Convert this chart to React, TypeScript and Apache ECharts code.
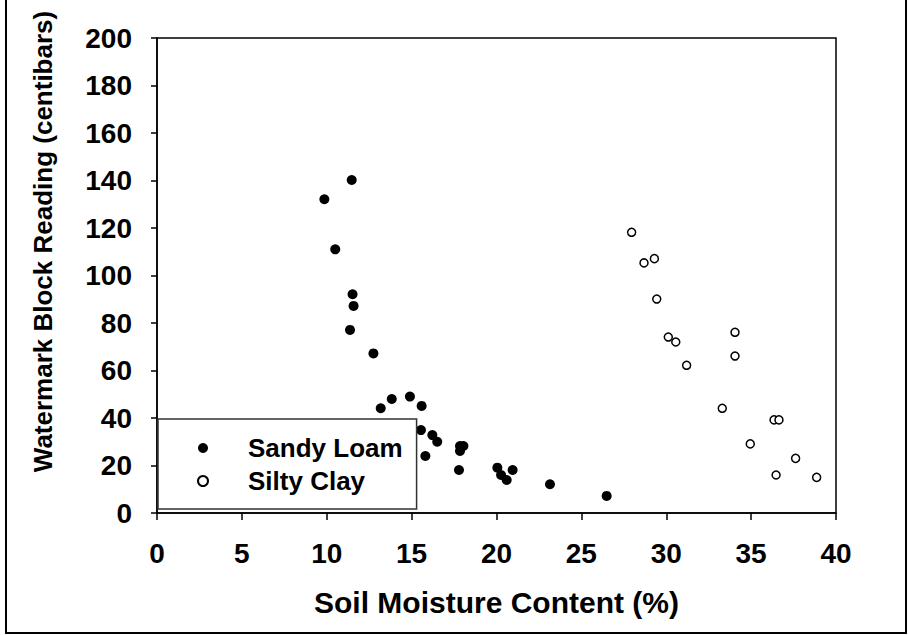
import React, { useEffect, useRef } from "react";
import * as echarts from "echarts";

const seriesNames = ["Sandy Loam", "Silty Clay"];

const sandyLoam: [number, number][] = [
  [9.86, 132.1], [10.5, 111.0], [11.47, 140.2], [11.52, 92.1], [11.58, 87.2],
  [11.37, 77.1], [12.75, 67.2], [13.18, 44.1], [13.83, 48.0], [14.9, 49.0],
  [15.59, 45.1], [15.55, 34.9], [15.81, 24.0], [16.22, 32.8], [16.51, 30.0],
  [17.85, 28.2], [18.05, 28.2], [17.85, 26.1], [17.79, 18.1], [20.05, 19.1],
  [20.27, 16.0], [20.6, 13.9], [20.95, 18.1], [23.15, 12.1], [26.49, 7.2],
];

const siltyClay: [number, number][] = [
  [27.96, 118.2], [28.69, 105.3], [29.3, 107.1], [29.44, 90.1], [30.12, 74.1],
  [30.56, 72.0], [31.2, 62.2], [34.05, 76.1], [34.05, 66.1], [33.3, 44.1],
  [36.35, 39.2], [36.64, 39.2], [34.95, 29.1], [37.62, 23.0], [36.47, 16.0],
  [38.86, 15.0],
];

const xAxisTitle = "Soil Moisture Content (%)";
const yAxisTitle = "Watermark Block Reading (centibars)";

const FONT = "'Liberation Sans', Arial, Helvetica, sans-serif";

export default function App() {
  const ref = useRef<HTMLDivElement>(null);
  useEffect(() => {
    document.body.style.margin = "0";
    if (!ref.current) return;
    const chart = echarts.init(ref.current, undefined, { renderer: "svg" });
    chart.setOption({
      animation: false,
      backgroundColor: "#ffffff",
      grid: {
        left: 157,
        top: 38,
        right: 72,
        bottom: 122,
        show: true,
        borderColor: "#000",
        borderWidth: 1.5,
        backgroundColor: "transparent",
      },
      xAxis: {
        type: "value",
        min: 0,
        max: 40,
        interval: 5,
        name: xAxisTitle,
        nameLocation: "middle",
        nameGap: 74,
        nameTextStyle: { fontSize: 30, fontWeight: "bold", color: "#000", fontFamily: FONT },
        axisLine: { show: true, onZero: false, lineStyle: { color: "#000", width: 1.5 } },
        axisTick: { show: true, inside: false, length: 7, lineStyle: { color: "#000", width: 1.5 } },
        axisLabel: { margin: 26, fontSize: 28, fontWeight: "bold", color: "#000", fontFamily: FONT },
        splitLine: { show: false },
      },
      yAxis: {
        type: "value",
        min: 0,
        max: 200,
        interval: 20,
        name: yAxisTitle,
        nameLocation: "middle",
        nameGap: 101,
        nameTextStyle: {
          fontSize: 26,
          fontWeight: "bold",
          color: "#000",
          fontFamily: FONT,
          padding: [0, 0, 0, 68],
        },
        axisLine: { show: true, onZero: false, lineStyle: { color: "#000", width: 1.5 } },
        axisTick: { show: true, inside: false, length: 6, lineStyle: { color: "#000", width: 1.5 } },
        axisLabel: { margin: 25, fontSize: 28, fontWeight: "bold", color: "#000", fontFamily: FONT },
        splitLine: { show: false },
      },
      legend: {
        orient: "vertical",
        left: 158,
        top: 419,
        padding: [16, 14, 15, 39],
        itemGap: 7,
        itemWidth: 10,
        itemHeight: 10,
        backgroundColor: "#ffffff",
        borderColor: "#333",
        borderWidth: 1.5,
        textStyle: {
          fontSize: 26,
          fontWeight: "bold",
          color: "#000",
          fontFamily: FONT,
          padding: [0, 0, 0, 35],
        },
        data: [
          { name: seriesNames[0], icon: "circle" },
          { name: seriesNames[1], icon: "circle" },
        ],
      },
      graphic: [
        {
          type: "rect",
          silent: true,
          shape: { x: 6, y: -10, width: 900, height: 643 },
          style: { fill: "none", stroke: "#000", lineWidth: 2 },
        },
      ],
      series: [
        {
          name: seriesNames[0],
          type: "scatter",
          data: sandyLoam,
          symbol: "circle",
          symbolSize: 10,
          itemStyle: { color: "#000", borderWidth: 0, opacity: 1 },
        },
        {
          name: seriesNames[1],
          type: "scatter",
          data: siltyClay,
          symbol: "circle",
          symbolSize: 8,
          itemStyle: { color: "#fff", borderColor: "#000", borderWidth: 1.5, opacity: 1 },
        },
      ],
    });
    return () => chart.dispose();
  }, []);
  return (
    <div
      ref={ref}
      style={{ position: "absolute", left: 0, top: 0, width: 908, height: 635, background: "#fff" }}
    />
  );
}
